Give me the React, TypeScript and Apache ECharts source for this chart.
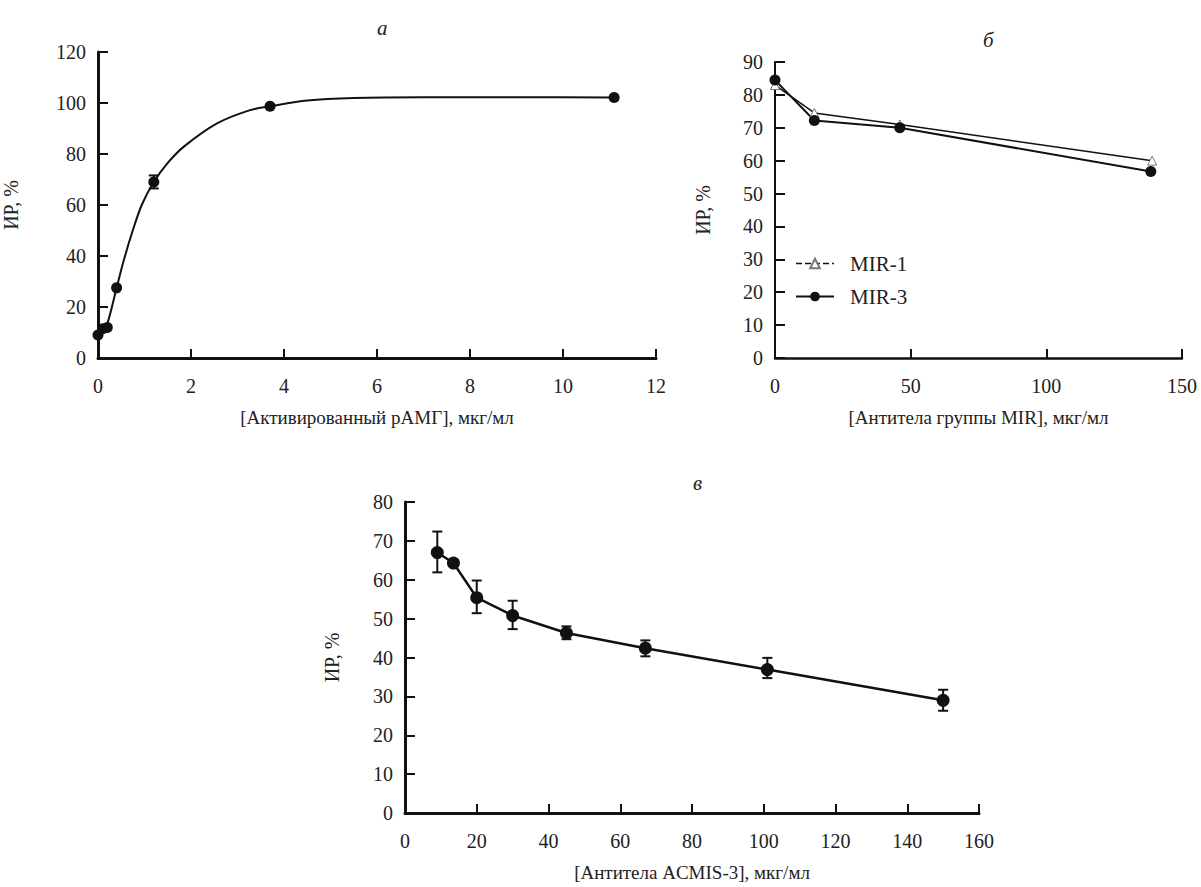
import React, { useEffect, useRef } from "react";
import * as echarts from "echarts";

// Panel а — measured points
const aX = [0, 0.1, 0.2, 0.4, 1.2, 3.7, 11.1];
const aY = [9, 11.5, 12, 27.5, 69, 98.7, 102.2];
const aErrX = [1.2];
const aErrLow = [66.5];
const aErrHigh = [71.6];
// Panel а — fitted curve
const aFitX = [0, 0.1, 0.2, 0.4, 0.55, 0.73, 0.94, 1.2, 1.5, 1.84, 2.56, 3.27, 3.7, 4.5, 5.5, 7, 9, 11.1];
const aFitY = [9, 11, 13.5, 27.5, 38, 49, 60, 69, 76.5, 82.8, 92, 97.2, 98.7, 101, 102, 102.3, 102.3, 102.2];

// Panel б
const mir1X = [0, 14.5, 46, 139];
const mir1Y = [83, 74.5, 71, 60];
const mir3X = [0, 14.5, 46, 138.5];
const mir3Y = [84.5, 72.2, 70, 56.7];

// Panel в
const cX = [9, 13.5, 20, 30, 45, 67, 101, 150];
const cY = [67, 64.3, 55.4, 50.8, 46.3, 42.4, 36.9, 29];
const cLow = [61.9, 63.5, 51.4, 47.3, 44.7, 40.3, 34.7, 26.3];
const cHigh = [72.4, 65.1, 59.8, 54.6, 48, 44.4, 39.9, 31.7];

const FONT = "Liberation Serif";
const INK = "#111";
const TXT = "#222";

const zip = (xs: number[], ys: number[]) => xs.map((x, i) => [x, ys[i]]);
const zip3 = (xs: number[], a: number[], b: number[]) => xs.map((x, i) => [x, a[i], b[i]]);

function errRender(params: any, api: any) {
  const x = api.value(0);
  const lo = api.value(1);
  const hi = api.value(2);
  const p1 = api.coord([x, lo]);
  const p2 = api.coord([x, hi]);
  const w = 5;
  const st = { stroke: INK, lineWidth: 2 };
  return {
    type: "group",
    children: [
      { type: "line", shape: { x1: p1[0], y1: p1[1], x2: p2[0], y2: p2[1] }, style: st },
      { type: "line", shape: { x1: p1[0] - w, y1: p1[1], x2: p1[0] + w, y2: p1[1] }, style: st },
      { type: "line", shape: { x1: p2[0] - w, y1: p2[1], x2: p2[0] + w, y2: p2[1] }, style: st },
    ],
  };
}

function xAxisCfg(gridIndex: number, max: number, interval: number, name: string, width: number) {
  return {
    type: "value",
    gridIndex,
    min: 0,
    max,
    interval,
    name,
    nameLocation: "middle",
    nameGap: 50,
    nameTextStyle: { fontFamily: FONT, fontSize: 19, color: TXT },
    axisLine: { show: true, lineStyle: { color: INK, width } },
    axisTick: { show: true, inside: true, length: 9, lineStyle: { color: INK, width: 2 } },
    axisLabel: { fontFamily: FONT, fontSize: 20, color: TXT, margin: 18 },
    splitLine: { show: false },
  };
}

function yAxisCfg(gridIndex: number, max: number, interval: number, nameGap: number, width: number) {
  return {
    type: "value",
    gridIndex,
    min: 0,
    max,
    interval,
    name: "ИР, %",
    nameLocation: "middle",
    nameGap,
    nameTextStyle: { fontFamily: FONT, fontSize: 20, color: TXT },
    axisLine: { show: true, lineStyle: { color: INK, width } },
    axisTick: { show: true, inside: true, length: 10, lineStyle: { color: INK, width: 2 } },
    axisLabel: { fontFamily: FONT, fontSize: 20, color: TXT, margin: 12 },
    splitLine: { show: false },
  };
}

const titleStyle = { fontFamily: FONT, fontStyle: "italic", fontWeight: "normal", fontSize: 21, color: TXT };

export default function App() {
  const ref = useRef<HTMLDivElement>(null);
  useEffect(() => {
    if (!ref.current) return;
    const chart = echarts.init(ref.current, null, { renderer: "svg" });
    chart.setOption({
      animation: false,
      backgroundColor: "#fff",
      textStyle: { fontFamily: FONT },
      title: [
        { text: "а", left: 372, top: 12, textStyle: titleStyle },
        { text: "б", left: 978, top: 24, textStyle: titleStyle },
        { text: "в", left: 688, top: 467, textStyle: titleStyle },
      ],
      legend: {
        orient: "vertical",
        left: 790,
        top: 248,
        itemWidth: 38,
        itemHeight: 12,
        itemGap: 12,
        textStyle: { fontFamily: FONT, fontSize: 21, color: TXT, padding: [0, 0, 0, 11] },
        data: [
          { name: "MIR-1", lineStyle: { type: "dashed", width: 1.5, color: INK } },
          { name: "MIR-3" },
        ],
      },
      grid: [
        { left: 98, top: 52, width: 558, height: 306 },
        { left: 775, top: 62, width: 407, height: 296 },
        { left: 405, top: 502, width: 574, height: 311 },
      ],
      xAxis: [
        xAxisCfg(0, 12, 2, "[Активированный рАМГ], мкг/мл", 3),
        xAxisCfg(1, 150, 50, "[Антитела группы MIR], мкг/мл", 2.5),
        xAxisCfg(2, 160, 20, "[Антитела ACMIS-3], мкг/мл", 3),
      ],
      yAxis: [
        yAxisCfg(0, 120, 20, 77, 3),
        yAxisCfg(1, 90, 10, 62, 2),
        yAxisCfg(2, 80, 10, 63, 3),
      ],
      series: [
        {
          name: "а-fit",
          type: "line",
          xAxisIndex: 0,
          yAxisIndex: 0,
          data: zip(aFitX, aFitY),
          smooth: 0.3,
          showSymbol: false,
          symbol: "none",
          lineStyle: { color: INK, width: 2 },
        },
        {
          name: "а",
          type: "scatter",
          xAxisIndex: 0,
          yAxisIndex: 0,
          data: zip(aX, aY),
          symbol: "circle",
          symbolSize: 11,
          itemStyle: { color: INK, opacity: 1 },
        },
        {
          name: "а-err",
          type: "custom",
          xAxisIndex: 0,
          yAxisIndex: 0,
          data: zip3(aErrX, aErrLow, aErrHigh),
          encode: { x: 0, y: [1, 2] },
          renderItem: errRender,
          z: 3,
        },
        {
          name: "MIR-1",
          type: "line",
          xAxisIndex: 1,
          yAxisIndex: 1,
          data: zip(mir1X, mir1Y),
          smooth: false,
          symbol: "triangle",
          symbolSize: 9,
          itemStyle: { color: "#fff", borderColor: "#777", borderWidth: 1 },
          lineStyle: { color: INK, width: 1.5 },
        },
        {
          name: "MIR-3",
          type: "line",
          xAxisIndex: 1,
          yAxisIndex: 1,
          data: zip(mir3X, mir3Y),
          smooth: false,
          symbol: "circle",
          symbolSize: 11,
          itemStyle: { color: INK },
          lineStyle: { color: INK, width: 2 },
        },
        {
          name: "в",
          type: "line",
          xAxisIndex: 2,
          yAxisIndex: 2,
          data: zip(cX, cY),
          symbol: "circle",
          symbolSize: 13,
          itemStyle: { color: INK },
          lineStyle: { color: INK, width: 2.5 },
        },
        {
          name: "в-err",
          type: "custom",
          xAxisIndex: 2,
          yAxisIndex: 2,
          data: zip3(cX, cLow, cHigh),
          encode: { x: 0, y: [1, 2] },
          renderItem: errRender,
          z: 3,
        },
      ],
    });
    return () => chart.dispose();
  }, []);
  return (
    <div
      ref={ref}
      style={{ position: "absolute", left: 0, top: 0, width: 1201, height: 887, background: "#fff" }}
    />
  );
}
